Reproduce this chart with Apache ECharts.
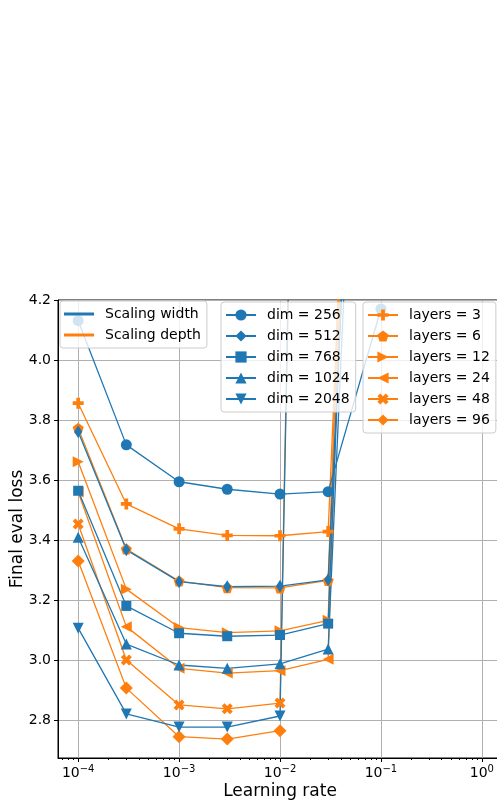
<!DOCTYPE html>
<html><head><meta charset="utf-8">
<script src="https://cdn.jsdelivr.net/npm/echarts@6.0.0/dist/echarts.min.js"></script>
<style>html,body{margin:0;padding:0;background:#fff}#c{width:497px;height:802px}</style>
</head><body><div id="c"></div>
<script>
// ---- data ----
const learningRates = [1e-4, 3e-4, 1e-3, 3e-3, 1e-2, 3e-2, 1e-1];
const dimNames = ['dim = 256', 'dim = 512', 'dim = 768', 'dim = 1024', 'dim = 2048'];
const layerNames = ['layers = 3', 'layers = 6', 'layers = 12', 'layers = 24', 'layers = 48', 'layers = 96'];
const dim256  = [4.131, 3.717, 3.594, 3.569, 3.553, 3.561, 4.17];
const dim512  = [3.761, 3.367, 3.261, 3.244, 3.246, 3.267, 7.0];
const dim768  = [3.564, 3.180, 3.089, 3.079, 3.083, 3.121, 7.5];
const dim1024 = [3.409, 3.053, 2.983, 2.972, 2.987, 3.036, 7.0];
const dim2048 = [3.106, 2.820, 2.776, 2.776, 2.813, 11.0, null];
const layers3  = [3.856, 3.520, 3.437, 3.415, 3.414, 3.428, 7.5];
const layers6  = [3.772, 3.370, 3.263, 3.241, 3.240, 3.265, 8.0];
const layers12 = [3.661, 3.236, 3.108, 3.091, 3.097, 3.132, 9.0];
const layers24 = [3.560, 3.111, 2.972, 2.956, 2.964, 3.002, 8.5];
const layers48 = [3.453, 3.000, 2.850, 2.837, 2.856, 11.0, null];
const layers96 = [3.330, 2.906, 2.744, 2.736, 2.764, null, null];
const xMajorTicks = [1e-4, 1e-3, 1e-2, 1e-1, 1e0];
const xMinorTicks = [7e-5, 8e-5, 9e-5,
  2e-4, 3e-4, 4e-4, 5e-4, 6e-4, 7e-4, 8e-4, 9e-4,
  2e-3, 3e-3, 4e-3, 5e-3, 6e-3, 7e-3, 8e-3, 9e-3,
  2e-2, 3e-2, 4e-2, 5e-2, 6e-2, 7e-2, 8e-2, 9e-2,
  2e-1, 3e-1, 4e-1, 5e-1, 6e-1, 7e-1, 8e-1, 9e-1];
const yTicks = [2.8, 3.0, 3.2, 3.4, 3.6, 3.8, 4.0, 4.2];

// ---- styling ----
const BLUE = '#1f77b4', ORANGE = '#ff7f0e';
const FONT = 'DejaVu Sans';
const PLUS = 'path://M2,0H4V2H6V4H4V6H2V4H0V2H2Z';
const XMARK = 'path://M0,2L2,0L4,2L6,0L8,2L6,4L8,6L6,8L4,6L2,8L0,6L2,4Z';
const PENT = 'path://M50,0L97.6,34.5L79.4,90.5L20.6,90.5L2.4,34.5Z';
const LINEICON = 'path://M0,0H30V3H0Z';

function mk(name, vals, color, symbol, size, rotate) {
  return {
    name, type: 'line', color, z: 2,
    data: learningRates.map((x, i) => [x, vals[i]]),
    symbol, symbolSize: size, symbolRotate: rotate || 0, symbolKeepAspect: false,
    showAllSymbol: true, clip: true, animation: false,
    lineStyle: { width: 1.3, color },
    itemStyle: { color, borderWidth: 0 },
    emphasis: { disabled: true }
  };
}

const series = [
  mk('layers = 3', layers3, ORANGE, PLUS, 11),
  mk('layers = 6', layers6, ORANGE, PENT, 11),
  mk('layers = 12', layers12, ORANGE, 'triangle', 11, -90),
  mk('layers = 24', layers24, ORANGE, 'triangle', 11, 90),
  mk('layers = 48', layers48, ORANGE, XMARK, 11),
  mk('layers = 96', layers96, ORANGE, 'diamond', 13),
  mk('dim = 256', dim256, BLUE, 'circle', 11),
  mk('dim = 512', dim512, BLUE, 'diamond', [8, 13]),
  mk('dim = 768', dim768, BLUE, 'rect', 10),
  mk('dim = 1024', dim1024, BLUE, 'triangle', 11),
  mk('dim = 2048', dim2048, BLUE, 'triangle', 11, 180),
  { name: 'Scaling width', type: 'line', color: BLUE, data: [], lineStyle: { width: 3 } },
  { name: 'Scaling depth', type: 'line', color: ORANGE, data: [], lineStyle: { width: 3 } }
];

const legendBase = {
  orient: 'vertical', itemWidth: 30, itemHeight: 14, itemGap: 7, z: 20,
  backgroundColor: 'rgba(255,255,255,0.8)', borderColor: '#cccccc', borderWidth: 1, borderRadius: 3,
  padding: [6, 6, 6, 4], selectedMode: false, symbolRotate: 'inherit',
  textStyle: { fontFamily: FONT, fontSize: 14, color: '#000', padding: [0, 0, 0, 6] }
};

const sup = e => '{b|10}{s|' + e + '}';
const chart = echarts.init(document.getElementById('c'), null, { renderer: 'canvas' });
chart.setOption({
  animation: false,
  grid: { left: 58, top: 300, width: 444, height: 458, show: true, borderColor: '#000', borderWidth: 1,
          backgroundColor: 'transparent', containLabel: false, outerBoundsMode: 'none' },
  xAxis: [{
    type: 'log', logBase: 10, min: Math.pow(10, -4.2), max: Math.pow(10, 0.2),
    name: 'Learning rate', nameLocation: 'middle', nameGap: 25, nameMoveOverlap: false,
    nameTextStyle: { fontFamily: FONT, fontSize: 17, color: '#000' },
    axisLine: { lineStyle: { color: '#000', width: 1 } },
    axisTick: { customValues: xMajorTicks, length: 4, lineStyle: { color: '#000' } },
    axisLabel: {
      customValues: xMajorTicks, margin: 6, color: '#000',
      formatter: v => { const e = Math.round(Math.log10(v)); return sup(e < 0 ? '\u2212' + (-e) : String(e)); },
      rich: { b: { fontFamily: FONT, fontSize: 14, color: '#000' }, s: { fontFamily: FONT, fontSize: 10, color: '#000', padding: [0, 0, 8, 0] } }
    },
    splitLine: { show: true, lineStyle: { color: '#b0b0b0', width: 1 } }
  }, {
    type: 'log', logBase: 10, min: Math.pow(10, -4.2), max: Math.pow(10, 0.2), gridIndex: 0, position: 'bottom',
    axisLine: { show: false }, axisLabel: { show: false }, splitLine: { show: false },
    axisTick: { customValues: xMinorTicks, length: 2, lineStyle: { color: '#000' } }
  }],
  yAxis: {
    type: 'value', min: 2.673, max: 4.2,
    name: 'Final eval loss', nameLocation: 'middle', nameGap: 32, nameRotate: 90, nameMoveOverlap: false,
    nameTextStyle: { fontFamily: FONT, fontSize: 17, color: '#000' },
    axisLine: { show: true, lineStyle: { color: '#000', width: 1 } },
    axisTick: { show: true, customValues: yTicks, length: 4, lineStyle: { color: '#000' } },
    axisLabel: { customValues: yTicks, margin: 7, fontFamily: FONT, fontSize: 14, color: '#000', formatter: v => v.toFixed(1) },
    splitLine: { show: true, lineStyle: { color: '#b0b0b0', width: 1 } }
  },
  legend: [
    Object.assign({}, legendBase, { left: 60, top: 301, data: [{ name: 'Scaling width', icon: LINEICON }, { name: 'Scaling depth', icon: LINEICON }] }),
    Object.assign({}, legendBase, { left: 221, top: 302, data: dimNames }),
    Object.assign({}, legendBase, { left: 363, top: 302, data: layerNames })
  ],
  series
});
</script>
</body></html>
